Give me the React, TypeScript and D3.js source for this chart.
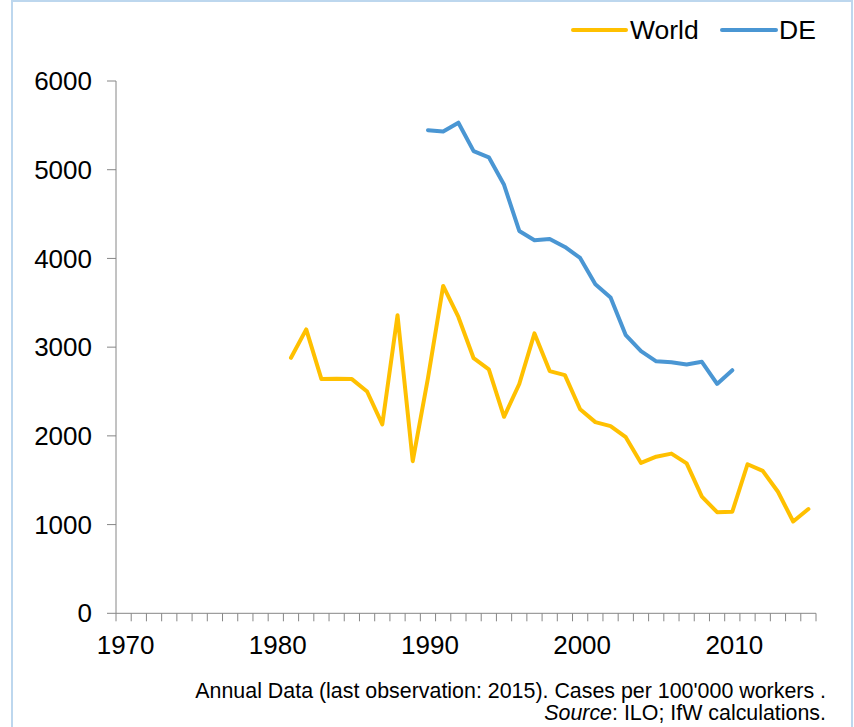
import React from "react";
import * as d3 from "d3";

const worldYears = [1981,1982,1983,1984,1985,1986,1987,1988,1989,1990,1991,1992,1993,1994,1995,1996,1997,1998,1999,2000,2001,2002,2003,2004,2005,2006,2007,2008,2009,2010,2011,2012,2013,2014,2015];
const worldValues = [2880,3200,2640,2645,2640,2500,2130,3360,1715,2650,3690,3340,2875,2750,2215,2585,3155,2730,2685,2300,2155,2110,1985,1695,1765,1800,1690,1315,1140,1145,1680,1605,1370,1035,1175];
const deYears = [1990,1991,1992,1993,1994,1995,1996,1997,1998,1999,2000,2001,2002,2003,2004,2005,2006,2007,2008,2009,2010];
const deValues = [5445,5430,5530,5210,5140,4830,4310,4205,4220,4130,4005,3710,3560,3135,2955,2840,2830,2805,2835,2585,2740];
const yTicks = [0,1000,2000,3000,4000,5000,6000];
const xLabels = [1970,1980,1990,2000,2010];
const firstYear = 1970;
const lastYear = 2015;
const legendItems = ["World","DE"];
const footer1 = "Annual Data (last observation: 2015). Cases per 100'000 workers .";
const footerSource = "Source";
const footerRest = ": ILO; IfW calculations.";

const W = 854, H = 727;
const left = 116, right = 816, top = 81, bottom = 613.3;
const colors = { World: "#FFC000", DE: "#4A96D3" };
const font = "'Liberation Sans', Arial, sans-serif";
const narrow = "'Liberation Sans Narrow', 'Arial Narrow', 'Liberation Sans', sans-serif";

export default function App() {
  const x = d3.scaleLinear().domain([firstYear - 0.5, lastYear + 0.5]).range([left, right]);
  const y = d3.scaleLinear().domain([0, 6000]).range([bottom, top]);
  const line = d3.line<[number, number]>().x(d => x(d[0])).y(d => y(d[1]));
  const world = worldYears.map((yr, i) => [yr, worldValues[i]] as [number, number]);
  const de = deYears.map((yr, i) => [yr, deValues[i]] as [number, number]);
  const yearBounds = d3.range(firstYear, lastYear + 2).map(v => v - 0.5);
  const axisColor = "#868686";

  return (
    <svg width={W} height={H} style={{ position: "absolute", left: 0, top: 0, background: "#fff" }}>
      <rect x={12} y={1} width={840} height={740} fill="#fff" stroke="#BDD7EE" strokeWidth={2} />
      {/* y axis */}
      <line x1={left} x2={left} y1={top} y2={bottom} stroke={axisColor} strokeWidth={1} />
      {yTicks.map(t => (
        <g key={t}>
          <line x1={left - 9} x2={left} y1={y(t)} y2={y(t)} stroke={axisColor} />
          <text x={92} y={y(t)} dy="0.35em" textAnchor="end" fontFamily={font} fontSize={26} fill="#000">{t}</text>
        </g>
      ))}
      {/* x axis */}
      <line x1={left} x2={right} y1={bottom} y2={bottom} stroke={axisColor} />
      {yearBounds.map(b => (
        <line key={b} x1={x(b)} x2={x(b)} y1={bottom} y2={bottom + 8} stroke={axisColor} />
      ))}
      {xLabels.map(l => (
        <text key={l} x={x(l) + 2} y={654} textAnchor="middle" fontFamily={font} fontSize={26} fill="#000">{l}</text>
      ))}
      {/* lines */}
      <path d={line(world) || ""} fill="none" stroke={colors.World} strokeWidth={4} strokeLinejoin="round" strokeLinecap="round" />
      <path d={line(de) || ""} fill="none" stroke={colors.DE} strokeWidth={4} strokeLinejoin="round" strokeLinecap="round" />
      {/* legend */}
      <g>
        <line x1={573} x2={626} y1={30} y2={30} stroke={colors.World} strokeWidth={4} strokeLinecap="round" />
        <text x={630} y={30} dy="0.35em" fontFamily={font} fontSize={26.5} fill="#000">{legendItems[0]}</text>
        <line x1={722} x2={776} y1={30} y2={30} stroke={colors.DE} strokeWidth={4} strokeLinecap="round" />
        <text x={779} y={30} dy="0.35em" fontFamily={font} fontSize={26.5} fill="#000">{legendItems[1]}</text>
      </g>
      {/* footer */}
      <text x={826} y={698} textAnchor="end" fontFamily={narrow} fontSize={21.4} fill="#000">{footer1}</text>
      <text x={826} y={720} textAnchor="end" fontFamily={narrow} fontSize={21.4} fill="#000">
        <tspan fontStyle="italic">{footerSource}</tspan>
        <tspan>{footerRest}</tspan>
      </text>
    </svg>
  );
}
